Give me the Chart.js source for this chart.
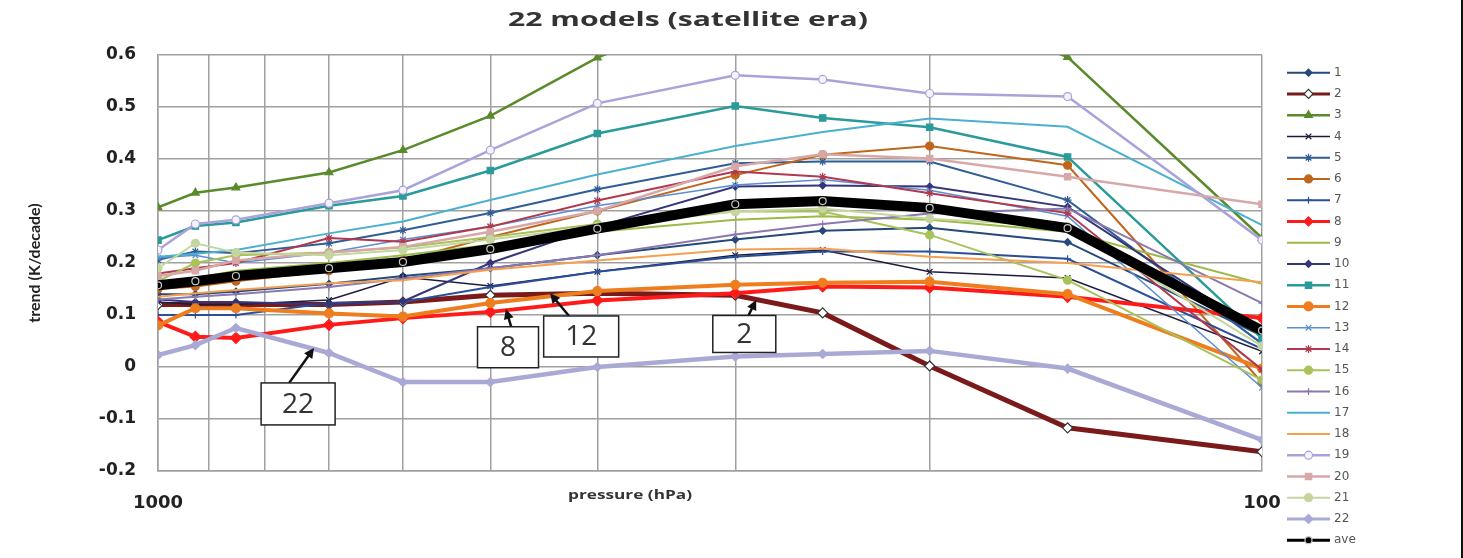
<!DOCTYPE html>
<html lang="en">
<head>
<meta charset="UTF-8">
<title>22 models (satellite era)</title>
<style>
    body {
        margin: 0;
        padding: 0;
        background: #fff;
    }
    .frame {
        position: relative;
        width: 1461px;
        height: 558px;
        border-right: 2px solid #111;
    }
</style>
</head>
<body>
<div class="frame"><canvas id="chart"></canvas></div>
<script src="https://cdn.jsdelivr.net/npm/chart.js"></script>
<script>
// pressure levels (hPa), same for every model
const pressure = [1000, 925, 850, 700, 600, 500, 400, 300, 250, 200, 150, 100];

// trend (K/decade) per model
const m1  = [0.140, 0.140, 0.145, 0.160, 0.175, 0.190, 0.215, 0.245, 0.262, 0.268, 0.240, 0.060];
const m2  = [0.120, 0.120, 0.120, 0.120, 0.125, 0.138, 0.142, 0.138, 0.104, 0.002, -0.117, -0.163];
const m3  = [0.307, 0.335, 0.345, 0.374, 0.417, 0.483, 0.595, 0.700, 0.720, 0.700, 0.596, 0.248];
const m4  = [0.125, 0.120, 0.120, 0.129, 0.173, 0.156, 0.183, 0.215, 0.225, 0.183, 0.171, 0.030];
const m5  = [0.206, 0.222, 0.219, 0.238, 0.263, 0.296, 0.342, 0.392, 0.395, 0.395, 0.321, 0.045];
const m6  = [0.150, 0.155, 0.165, 0.185, 0.205, 0.250, 0.300, 0.369, 0.408, 0.425, 0.388, -0.030];
const m7  = [0.100, 0.100, 0.100, 0.123, 0.125, 0.154, 0.183, 0.212, 0.222, 0.222, 0.208, 0.035];
const m8  = [0.087, 0.058, 0.056, 0.081, 0.094, 0.106, 0.128, 0.142, 0.155, 0.153, 0.135, 0.094];
const m9  = [0.160, 0.170, 0.185, 0.200, 0.215, 0.235, 0.260, 0.283, 0.290, 0.283, 0.260, 0.160];
const m10 = [0.130, 0.125, 0.125, 0.120, 0.126, 0.200, 0.270, 0.347, 0.349, 0.347, 0.308, 0.065];
const m11 = [0.244, 0.271, 0.278, 0.310, 0.329, 0.378, 0.449, 0.502, 0.479, 0.461, 0.404, 0.055];
const m12 = [0.080, 0.113, 0.113, 0.103, 0.097, 0.123, 0.146, 0.158, 0.162, 0.164, 0.140, -0.003];
const m13 = [0.210, 0.215, 0.200, 0.220, 0.245, 0.270, 0.310, 0.350, 0.360, 0.340, 0.290, -0.040];
const m14 = [0.180, 0.190, 0.200, 0.248, 0.241, 0.270, 0.320, 0.376, 0.366, 0.334, 0.296, -0.005];
const m15 = [0.165, 0.200, 0.215, 0.220, 0.230, 0.250, 0.275, 0.299, 0.299, 0.254, 0.167, -0.025];
const m16 = [0.130, 0.135, 0.140, 0.154, 0.170, 0.190, 0.215, 0.255, 0.275, 0.295, 0.305, 0.123];
const m17 = [0.212, 0.218, 0.225, 0.257, 0.280, 0.321, 0.370, 0.425, 0.452, 0.478, 0.462, 0.273];
const m18 = [0.135, 0.142, 0.148, 0.161, 0.167, 0.187, 0.205, 0.226, 0.228, 0.212, 0.200, 0.163];
const m19 = [0.225, 0.275, 0.283, 0.315, 0.340, 0.417, 0.507, 0.561, 0.553, 0.526, 0.520, 0.244];
const m20 = [0.175, 0.185, 0.205, 0.220, 0.231, 0.260, 0.300, 0.386, 0.409, 0.401, 0.366, 0.313];
const m21 = [0.190, 0.238, 0.220, 0.215, 0.225, 0.245, 0.270, 0.299, 0.305, 0.285, 0.270, 0.040];
const m22 = [0.023, 0.042, 0.075, 0.027, -0.029, -0.029, 0.000, 0.020, 0.025, 0.031, -0.003, -0.140];
const ave = [0.157, 0.165, 0.175, 0.190, 0.202, 0.227, 0.266, 0.313, 0.319, 0.306, 0.267, 0.070];

const seriesValues = [m1, m2, m3, m4, m5, m6, m7, m8, m9, m10, m11, m12, m13, m14, m15, m16, m17, m18, m19, m20, m21, m22, ave];
const seriesNames = ['1', '2', '3', '4', '5', '6', '7', '8', '9', '10', '11', '12', '13', '14', '15', '16', '17', '18', '19', '20', '21', '22', 'ave'];

// axis ticks
const gridPressures = [1000, 900, 800, 700, 600, 500, 400, 300, 200, 100];
const labelledPressures = [1000, 100];

// look of each series: colour, marker, width
const looks = [
    { c: '#24497a', p: 'rectRot', r: 3.5, w: 2 },
    { c: '#7a1a1a', p: 'rectRot', r: 5, w: 5, fill: '#fff', edge: '#333' },
    { c: '#5a8a2a', p: 'triangle', r: 4.5, w: 2.5 },
    { c: '#1c1c3c', p: 'crossRot', r: 4, w: 1.5 },
    { c: '#2f5d95', p: 'star', r: 4, w: 2 },
    { c: '#c0661c', p: 'circle', r: 4, w: 2 },
    { c: '#2a4f9a', p: 'cross', r: 3.5, w: 2 },
    { c: '#ff1a1a', p: 'rectRot', r: 5.5, w: 4 },
    { c: '#9bbb45', p: false, r: 0, w: 2 },
    { c: '#35357a', p: 'rectRot', r: 3.5, w: 2 },
    { c: '#2a9a9a', p: 'rect', r: 4.5, w: 2.5 },
    { c: '#ee7d1e', p: 'circle', r: 4.5, w: 4 },
    { c: '#5b8ed0', p: 'crossRot', r: 4, w: 1.5 },
    { c: '#b0384f', p: 'star', r: 4, w: 2 },
    { c: '#a9c25a', p: 'circle', r: 4, w: 2 },
    { c: '#8a78b0', p: 'cross', r: 3.5, w: 2 },
    { c: '#4bb0d0', p: false, r: 0, w: 2 },
    { c: '#f4a050', p: false, r: 0, w: 2 },
    { c: '#aaa2da', p: 'circle', r: 4, w: 2.5, fill: '#f4f2fb' },
    { c: '#d8a8a8', p: 'rect', r: 4.5, w: 2.5 },
    { c: '#c4d69e', p: 'circle', r: 4, w: 2 },
    { c: '#a9a9d6', p: 'rectRot', r: 4.5, w: 4.5 },
    { c: '#000000', p: 'circle', r: 3.5, w: 10, fill: '#000', edge: '#c8c8c8' }
];

// boxed labels with arrows, in data coordinates (pressure, trend)
const callouts = [
    { text: '22', box: [746.6, -0.071], w: 74, h: 42, tail: [760.9, -0.031], tip: [722.3, 0.0365] },
    { text: '8', box: [481.9, 0.038], w: 61, h: 41, tail: [478.7, 0.077], tip: [484.0, 0.1115] },
    { text: '12', box: [413.7, 0.0587], w: 75, h: 41, tail: [424.3, 0.098], tip: [441.5, 0.142] },
    { text: '2', box: [294.4, 0.0635], w: 63, h: 37, tail: [292.0, 0.098], tip: [287.2, 0.129] }
];

const datasets = seriesValues.map((vals, i) => {
    const lk = looks[i];
    return {
        label: seriesNames[i],
        data: pressure.map((p, k) => ({ x: p, y: vals[k] })),
        borderColor: lk.c,
        backgroundColor: lk.c,
        borderWidth: lk.w,
        pointStyle: lk.p,
        pointRadius: lk.r,
        pointBackgroundColor: lk.fill || lk.c,
        pointBorderColor: lk.edge || lk.c,
        pointBorderWidth: 1.2,
        tension: 0,
        order: -i
    };
});

// the original picture is stretched sideways, so widen the text to a given width
function wideText(ctx, text, cx, cy, width) {
    const natural = ctx.measureText(text).width;
    ctx.save();
    ctx.translate(cx, cy);
    ctx.scale(width / natural, 1);
    ctx.fillText(text, 0, 0);
    ctx.restore();
}

const textPlugin = {
    id: 'texts',
    afterDraw(chart) {
        const ctx = chart.ctx;
        ctx.save();
        ctx.fillStyle = '#333';
        ctx.textAlign = 'center';
        ctx.textBaseline = 'middle';
        ctx.font = 'bold 19px "Open Sans"';
        wideText(ctx, '22 models (satellite era)', 688, 21, 360);
        ctx.font = 'bold 13px "Open Sans"';
        wideText(ctx, 'pressure (hPa)', 630, 495, 124);
        ctx.restore();
    }
};

const legendPlugin = {
    id: 'sideLegend',
    afterDraw(chart) {
        const ctx = chart.ctx;
        const x0 = chart.chartArea.right + 25;
        const x1 = x0 + 43;
        ctx.save();
        chart.data.datasets.forEach((ds, i) => {
            const y = 72.7 + i * 21.25;
            ctx.strokeStyle = ds.borderColor;
            ctx.lineWidth = Math.min(ds.borderWidth, 3);
            ctx.beginPath();
            ctx.moveTo(x0, y);
            ctx.lineTo(x1, y);
            ctx.stroke();
            if (ds.pointStyle) {
                ctx.fillStyle = ds.pointBackgroundColor;
                ctx.strokeStyle = ds.pointBorderColor;
                ctx.lineWidth = 1.2;
                Chart.helpers.drawPoint(ctx, {
                    pointStyle: ds.pointStyle,
                    radius: Math.min(ds.pointRadius, 4.5),
                    borderWidth: 1.2,
                    rotation: 0
                }, (x0 + x1) / 2, y);
            }
            ctx.fillStyle = '#555';
            ctx.font = '12px "DejaVu Sans"';
            ctx.textAlign = 'left';
            ctx.textBaseline = 'middle';
            ctx.fillText(ds.label, x1 + 4, y);
        });
        ctx.restore();
    }
};

const calloutPlugin = {
    id: 'callouts',
    afterDatasetsDraw(chart) {
        const ctx = chart.ctx;
        const xs = chart.scales.x, ys = chart.scales.y;
        ctx.save();
        callouts.forEach(c => {
            const tx = xs.getPixelForValue(c.tail[0]), ty = ys.getPixelForValue(c.tail[1]);
            const hx = xs.getPixelForValue(c.tip[0]), hy = ys.getPixelForValue(c.tip[1]);
            const ang = Math.atan2(hy - ty, hx - tx);
            ctx.strokeStyle = '#111';
            ctx.fillStyle = '#111';
            ctx.lineWidth = 2.5;
            ctx.beginPath();
            ctx.moveTo(tx, ty);
            ctx.lineTo(hx - 6 * Math.cos(ang), hy - 6 * Math.sin(ang));
            ctx.stroke();
            ctx.beginPath();
            ctx.moveTo(hx, hy);
            ctx.lineTo(hx - 10 * Math.cos(ang) + 5 * Math.sin(ang), hy - 10 * Math.sin(ang) - 5 * Math.cos(ang));
            ctx.lineTo(hx - 10 * Math.cos(ang) - 5 * Math.sin(ang), hy - 10 * Math.sin(ang) + 5 * Math.cos(ang));
            ctx.closePath();
            ctx.fill();

            const bx = xs.getPixelForValue(c.box[0]), by = ys.getPixelForValue(c.box[1]);
            ctx.fillStyle = '#fff';
            ctx.fillRect(bx - c.w / 2, by - c.h / 2, c.w, c.h);
            ctx.lineWidth = 1.5;
            ctx.strokeStyle = '#222';
            ctx.strokeRect(bx - c.w / 2, by - c.h / 2, c.w, c.h);
            ctx.fillStyle = '#333';
            ctx.font = '28px "Open Sans"';
            ctx.textAlign = 'center';
            ctx.textBaseline = 'middle';
            ctx.fillText(c.text, bx, by + 1);
        });
        ctx.restore();
    }
};

const gridColor = '#a0a0a0';

new Chart(document.getElementById('chart'), {
    type: 'line',
    data: { datasets: datasets },
    options: {
        responsive: true,
        maintainAspectRatio: false,
        animation: false,
        layout: { padding: { top: 55, right: 199, bottom: 0, left: 0 } },
        plugins: {
            legend: { display: false },
            tooltip: { enabled: false },
            title: { display: false }
        },
        scales: {
            x: {
                type: 'logarithmic',
                reverse: true,
                min: 100,
                max: 1000,
                afterBuildTicks: s => { s.ticks = gridPressures.map(v => ({ value: v })); },
                afterFit: s => { s.height = 87; },
                ticks: {
                    autoSkip: false,
                    maxRotation: 0,
                    padding: 22,
                    color: '#222',
                    font: { family: 'DejaVu Sans', weight: 'bold', size: 18 },
                    callback: v => labelledPressures.includes(v) ? String(v) : ''
                },
                grid: { color: gridColor, lineWidth: 1.5, drawTicks: false },
                border: { color: gridColor, width: 1.5 }
            },
            y: {
                min: -0.2,
                max: 0.6,
                afterFit: s => { s.width = 158; },
                ticks: {
                    stepSize: 0.1,
                    padding: 22,
                    color: '#222',
                    font: { family: 'DejaVu Sans', weight: 'bold', size: 17 },
                    callback: v => String(Number(v.toFixed(1)))
                },
                grid: { color: gridColor, lineWidth: 1.5, drawTicks: false },
                border: { color: gridColor, width: 1.5 },
                title: {
                    display: true,
                    text: 'trend (K/decade)',
                    color: '#222',
                    font: { family: 'Lato', weight: 'bold', size: 16 },
                    padding: { top: 25, bottom: 0 }
                }
            }
        }
    },
    plugins: [textPlugin, legendPlugin, calloutPlugin]
});
</script>
</body>
</html>
